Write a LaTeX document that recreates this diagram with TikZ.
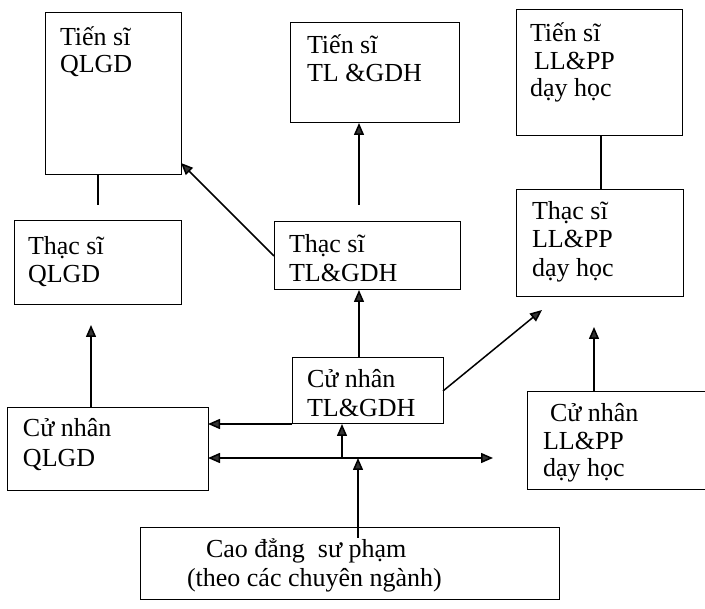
\documentclass[tikz,border=0pt]{standalone}
\usepackage{fontspec}
\setmainfont{Liberation Serif}
\usetikzlibrary{arrows.meta}
\tikzset{
  box/.style={draw=black, line width=1pt, rectangle, inner sep=0pt, outer sep=0pt, anchor=north west},
  txt/.style={anchor=base west, inner sep=0pt, outer sep=0pt, font=\fontsize{26}{30}\selectfont},
  conn/.style={draw=black, line width=1.5pt},
  arr/.style={conn, -{Triangle[length=12pt,width=10pt,fill=black!80]}},
  darr/.style={conn, {Triangle[length=12pt,width=10pt,fill=black!80]}-{Triangle[length=12pt,width=10pt,fill=black!80]}}
}
\begin{document}
\begin{tikzpicture}[x=1pt,y=-1pt]
\useasboundingbox (0,0) rectangle (705,609);
\clip (0,0) rectangle (705,609);
% boxes
\node[box, minimum width=136, minimum height=162] (tsq) at (45,13) {};
\node[box, minimum width=169, minimum height=100] (tst) at (290,23) {};
\node[box, minimum width=166, minimum height=126] (tsl) at (516,10) {};
\node[box, minimum width=167, minimum height=84] (thsq) at (14,221) {};
\node[box, minimum width=186, minimum height=68] (thst) at (274,222) {};
\node[box, minimum width=167, minimum height=107] (thsl) at (516,190) {};
\node[box, minimum width=201, minimum height=83] (cnq) at (7,408) {};
\node[box, minimum width=151, minimum height=66] (cnt) at (292,358) {};
\node[box, minimum width=190, minimum height=98] (cnl) at (527,392) {};
\node[box, minimum width=419, minimum height=72] (cd) at (140,528) {};
% texts
\node[txt] (tsq1) at (60,46) {Tiến sĩ};
\node[txt] (tsq2) at (60,73) {QLGD};
\node[txt] (tst1) at (307,54) {Tiến sĩ};
\node[txt] (tst2) at (307,82) {TL \&GDH};
\node[txt] (tsl1) at (530,42) {Tiến sĩ};
\node[txt] (tsl2) at (534,70) {LL\&PP};
\node[txt] (tsl3) at (530,97) {dạy học};
\node[txt] (thsq1) at (28,255) {Thạc sĩ};
\node[txt] (thsq2) at (28,283) {QLGD};
\node[txt] (thst1) at (289,253) {Thạc sĩ};
\node[txt] (thst2) at (289,282) {TL\&GDH};
\node[txt] (thsl1) at (532,220) {Thạc sĩ};
\node[txt] (thsl2) at (532,248) {LL\&PP};
\node[txt] (thsl3) at (532,277) {dạy học};
\node[txt] (cnq1) at (23,437) {Cử nhân};
\node[txt] (cnq2) at (23,467) {QLGD};
\node[txt] (cnt1) at (307,388) {Cử nhân};
\node[txt] (cnt2) at (307,417) {TL\&GDH};
\node[txt] (cnl1) at (550,422) {Cử nhân};
\node[txt] (cnl2) at (543,450) {LL\&PP};
\node[txt] (cnl3) at (543,477) {dạy học};
\node[txt] (cd1) at (206,558) {Cao đẳng\ \ sư phạm};
\node[txt] (cd2) at (187,587) {(theo các chuyên ngành)};
% free ends
\coordinate (q1) at (98,205);
\coordinate (t1) at (359,205);
\coordinate (l1) at (601,0);
\coordinate (q2) at (181,163);
\coordinate (q3) at (91,325);
\coordinate (l2) at (542,310);
\coordinate (l3) at (594,327);
\coordinate (h1) at (493,458);
\coordinate (h2) at (342,458);
\coordinate (h3) at (358,458);
% connectors
\draw[conn] (tsq.south -| q1) -- (q1);
\draw[arr] (t1) -- (tst.south -| t1);
\draw[conn] (tsl.south -| l1) -- (thsl.north -| l1);
\draw[arr] (thst.west) -- (q2);
\draw[arr] (cnq.north -| q3) -- (q3);
\draw[arr] (cnt.north -| t1) -- (thst.south -| t1);
\draw[arr] (cnt.east) -- (l2);
\draw[arr] (cnl.north -| l3) -- (l3);
\draw[arr] (cnt.south west) -- (cnq.east |- cnt.south west);
\draw[darr] (cnq.east |- h1) -- (h1);
\draw[arr] (h2) -- (cnt.south -| h2);
\draw[arr] ([yshift=-10pt]cd.north -| h3) -- (h3);
\end{tikzpicture}
\end{document}
